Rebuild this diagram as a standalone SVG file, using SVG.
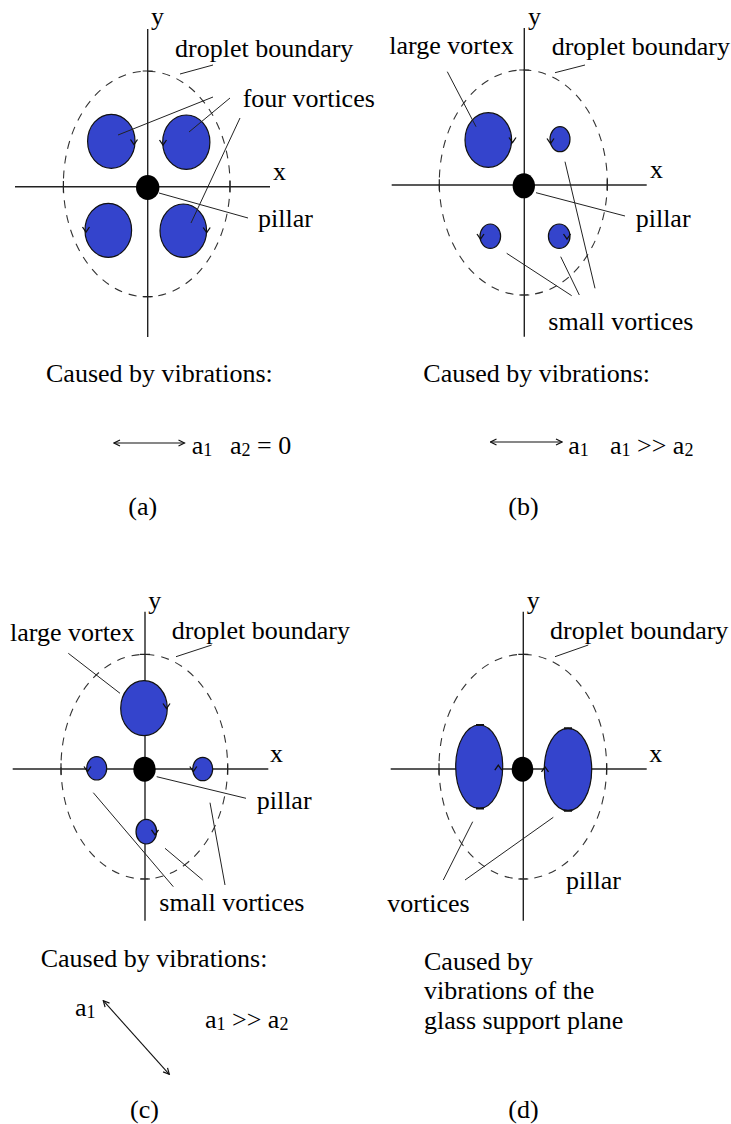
<svg xmlns="http://www.w3.org/2000/svg" xmlns:xlink="http://www.w3.org/1999/xlink" width="731" height="1124" viewBox="0 0 731 1124">
<defs>
<style>
.t{font-family:"Liberation Serif","Times New Roman",serif;font-size:26px;fill:#000}
.sub{font-size:18px}
.ax{stroke:#222;stroke-width:1.4;fill:none}
.bd{fill:none;stroke:#333;stroke-width:1.1;stroke-dasharray:8 7}
.vx{fill:#3444cc;stroke:#111;stroke-width:1.2}
.pl{fill:#000}
.ld{stroke:#222;stroke-width:1;fill:none}
.ah{fill:none;stroke:#111;stroke-width:1.3}
.tk{stroke:#222;stroke-width:1.2;fill:none}
.dbl{stroke:#111;stroke-width:1.1;fill:none}
</style>
<marker id="hd" viewBox="0 0 8 8" refX="7" refY="4" markerWidth="8" markerHeight="8" markerUnits="userSpaceOnUse" orient="auto-start-reverse">
<path d="M1,1 L7,4 L1,7" fill="none" stroke="#111" stroke-width="1.2"/>
</marker>
<path id="cv" d="M-3.5,-3.5 L0,1.5 L3.5,-3.5" class="ah"/>
<path id="cu" d="M-3.5,3.5 L0,-1.5 L3.5,3.5" class="ah"/>
</defs>
<rect width="731" height="1124" fill="#fff"/>

<!-- Panel (a) -->
<g id="panel-a">
  <g id="a-axes">
    <line class="ax" x1="147.7" y1="29" x2="147.7" y2="337"/>
    <line class="ax" x1="15" y1="186.7" x2="270" y2="186.7"/>
    <text class="t" x="151" y="25">y</text>
    <text class="t" x="273" y="180">x</text>
  </g>
  <g id="a-boundary">
    <ellipse class="bd" cx="146.7" cy="184" rx="83.3" ry="112.8"/>
    <path class="tk" d="M142.7,71 H152.7 M142.7,296.7 H152.7 M63.4,181 V192.4 M230,181 V192.4"/>
  </g>
  <g id="a-vortex-tl"><ellipse class="vx" cx="111.3" cy="141.3" rx="23.7" ry="27"/><use xlink:href="#cv" x="134" y="143"/></g>
  <g id="a-vortex-tr"><ellipse class="vx" cx="186.3" cy="142.2" rx="23.6" ry="27.2"/><use xlink:href="#cv" x="163" y="143.5"/></g>
  <g id="a-vortex-bl"><ellipse class="vx" cx="108.3" cy="230.3" rx="23.3" ry="27"/><use xlink:href="#cv" x="86" y="230.5"/></g>
  <g id="a-vortex-br"><ellipse class="vx" cx="183.3" cy="230.7" rx="23.3" ry="26.7"/><use xlink:href="#cv" x="206.7" y="231"/></g>
  <g id="a-pillar"><ellipse class="pl" cx="147.7" cy="187.5" rx="11.7" ry="12.5"/></g>
  <g id="a-labels">
    <text class="t" x="175" y="57">droplet boundary</text>
    <text class="t" x="242.7" y="107">four vortices</text>
    <text class="t" x="258" y="227">pillar</text>
  </g>
  <g id="a-caption">
    <text class="t" x="46" y="382">Caused by vibrations:</text>
    <line class="dbl" x1="114" y1="443" x2="184.5" y2="443" marker-start="url(#hd)" marker-end="url(#hd)"/>
    <text class="t" x="191.7" y="454">a<tspan class="sub" dy="2">1</tspan></text>
    <text class="t" x="230" y="454">a<tspan class="sub" dy="2">2</tspan><tspan dy="-2"> = 0</tspan></text>
    <text class="t" x="128.3" y="515">(a)</text>
  </g>
</g>

<!-- Panel (b) -->
<g id="panel-b">
  <g id="b-axes">
    <line class="ax" x1="524.3" y1="28" x2="524.3" y2="336.7"/>
    <line class="ax" x1="391.7" y1="185" x2="646.7" y2="185"/>
    <text class="t" x="528" y="25">y</text>
    <text class="t" x="650" y="178">x</text>
  </g>
  <g id="b-boundary">
    <ellipse class="bd" cx="523.3" cy="182.5" rx="84" ry="112.5"/>
    <path class="tk" d="M519.3,70 H529.3 M519.3,295 H529.3 M439.3,179.3 V190.7 M607.3,179.3 V190.7"/>
  </g>
  <g id="b-vortex-large"><ellipse class="vx" cx="488.3" cy="140" rx="23.3" ry="27.3"/><use xlink:href="#cv" x="512.5" y="141"/></g>
  <g id="b-vortex-tr"><ellipse class="vx" cx="560" cy="139.2" rx="10" ry="12.5"/><use xlink:href="#cv" x="550.5" y="142"/></g>
  <g id="b-vortex-bl"><ellipse class="vx" cx="490.3" cy="236.2" rx="10.3" ry="12.2"/><use xlink:href="#cv" x="480.5" y="237.5"/></g>
  <g id="b-vortex-br"><ellipse class="vx" cx="559.2" cy="236.2" rx="10.8" ry="12.2"/><use xlink:href="#cv" x="567" y="237.5"/></g>
  <g id="b-pillar"><ellipse class="pl" cx="523.8" cy="185.8" rx="11.2" ry="12.5"/></g>
  <g id="b-labels">
    <text class="t" x="389.3" y="54">large vortex</text>
    <text class="t" x="551.7" y="55">droplet boundary</text>
    <text class="t" x="635.7" y="227">pillar</text>
    <text class="t" x="548.3" y="330">small vortices</text>
  </g>
  <g id="b-caption">
    <text class="t" x="423.3" y="382">Caused by vibrations:</text>
    <line class="dbl" x1="490.5" y1="442" x2="562" y2="442" marker-start="url(#hd)" marker-end="url(#hd)"/>
    <text class="t" x="568.3" y="454">a<tspan class="sub" dy="2">1</tspan></text>
    <text class="t" x="610" y="454">a<tspan class="sub" dy="2">1</tspan><tspan dy="-2"> &gt;&gt; a</tspan><tspan class="sub" dy="2">2</tspan></text>
    <text class="t" x="508.3" y="515">(b)</text>
  </g>
</g>

<!-- Panel (c) -->
<g id="panel-c">
  <g id="c-axes">
    <line class="ax" x1="145" y1="611.7" x2="145" y2="920.7"/>
    <line class="ax" x1="12.7" y1="769" x2="268.3" y2="769"/>
    <text class="t" x="148.3" y="608.7">y</text>
    <text class="t" x="270" y="761.7">x</text>
  </g>
  <g id="c-boundary">
    <ellipse class="bd" cx="144.3" cy="766.7" rx="83.3" ry="112.3"/>
    <path class="tk" d="M140,654.3 H150 M140,879 H150 M61,763.3 V774.7 M227.7,763.3 V774.7"/>
  </g>
  <g id="c-vortex-large"><ellipse class="vx" cx="144" cy="708.2" rx="23.3" ry="27.5"/><use xlink:href="#cv" x="166.5" y="707"/></g>
  <g id="c-vortex-left"><ellipse class="vx" cx="96.7" cy="768.3" rx="10" ry="11.7"/><use xlink:href="#cv" x="87.5" y="770"/></g>
  <g id="c-vortex-right"><ellipse class="vx" cx="202.7" cy="769" rx="10" ry="11.7"/><use xlink:href="#cv" x="193.3" y="770"/></g>
  <g id="c-vortex-bottom"><ellipse class="vx" cx="146.3" cy="831.7" rx="10.3" ry="12.3"/><use xlink:href="#cv" x="155" y="833.3"/></g>
  <g id="c-pillar"><ellipse class="pl" cx="144.5" cy="769.2" rx="11.2" ry="12.5"/></g>
  <g id="c-labels">
    <text class="t" x="10" y="641">large vortex</text>
    <text class="t" x="171.7" y="639">droplet boundary</text>
    <text class="t" x="256.7" y="809">pillar</text>
    <text class="t" x="159.3" y="910.5">small vortices</text>
  </g>
  <g id="c-caption">
    <text class="t" x="40.7" y="967">Caused by vibrations:</text>
    <text class="t" x="75" y="1016">a<tspan class="sub" dy="2">1</tspan></text>
    <line class="dbl" x1="103.3" y1="1000.7" x2="169.3" y2="1074.3" marker-start="url(#hd)" marker-end="url(#hd)"/>
    <text class="t" x="205" y="1028">a<tspan class="sub" dy="2">1</tspan><tspan dy="-2"> &gt;&gt; a</tspan><tspan class="sub" dy="2">2</tspan></text>
    <text class="t" x="130" y="1118">(c)</text>
  </g>
</g>

<!-- Panel (d) -->
<g id="panel-d">
  <g id="d-axes">
    <line class="ax" x1="523.3" y1="611.7" x2="523.3" y2="920.7"/>
    <line class="ax" x1="390.7" y1="769" x2="646.7" y2="769"/>
    <text class="t" x="526.7" y="608.7">y</text>
    <text class="t" x="649.3" y="761.7">x</text>
  </g>
  <g id="d-boundary">
    <ellipse class="bd" cx="522.8" cy="766.7" rx="83.8" ry="112.3"/>
    <path class="tk" d="M518.3,654.3 H528.3 M518.3,879 H528.3 M439,763.3 V774.7 M606.7,763.3 V774.7"/>
  </g>
  <g id="d-vortex-left"><ellipse class="vx" cx="479.2" cy="766.7" rx="23.5" ry="41.7"/><path d="M476,725 H484 M476,808.4 H484" stroke="#111" stroke-width="2"/><use xlink:href="#cu" x="498.3" y="766.7"/></g>
  <g id="d-vortex-right"><ellipse class="vx" cx="568" cy="769.5" rx="23.7" ry="41.2"/><path d="M564,728.3 H572 M564,810.7 H572" stroke="#111" stroke-width="2"/><use xlink:href="#cu" x="545" y="768.3"/></g>
  <g id="d-pillar"><ellipse class="pl" cx="522.5" cy="769.2" rx="10.8" ry="12.5"/></g>
  <g id="d-labels">
    <text class="t" x="550" y="639">droplet boundary</text>
    <text class="t" x="566" y="889">pillar</text>
    <text class="t" x="387.3" y="911.7">vortices</text>
  </g>
  <g id="d-caption">
    <text class="t" x="424" y="970">Caused by</text>
    <text class="t" x="424" y="999">vibrations of the</text>
    <text class="t" x="424" y="1029">glass support plane</text>
    <text class="t" x="508.3" y="1118">(d)</text>
  </g>
</g>

<!-- Connectors (leader lines) -->
<g id="connectors">
  <path class="ld" d="M180,74 L213,65"/>
  <path class="ld" d="M213,97 L118,135"/>
  <path class="ld" d="M230,98 L189,132"/>
  <path class="ld" d="M240,118 L191,223"/>
  <path class="ld" d="M159,193 L248,218"/>

  <path class="ld" d="M555,72.7 L585,65"/>
  <path class="ld" d="M447.3,71.7 L476,126.7"/>
  <path class="ld" d="M536,192.7 L625,216"/>
  <path class="ld" d="M506.7,253.3 L571.7,295.7"/>
  <path class="ld" d="M560.7,256.7 L579.3,295"/>
  <path class="ld" d="M565,161.7 L595,288.3"/>

  <path class="ld" d="M176,656.7 L211.7,645"/>
  <path class="ld" d="M68.3,653.3 L120,693.3"/>
  <path class="ld" d="M156.7,776.7 L246,798.3"/>
  <path class="ld" d="M93.3,792.7 L173.3,886.7"/>
  <path class="ld" d="M165,848.3 L202.7,880"/>
  <path class="ld" d="M210,802.7 L225,885"/>

  <path class="ld" d="M555,656.7 L588.3,645"/>
  <path class="ld" d="M472.7,821.7 L443.3,880"/>
  <path class="ld" d="M553.3,817.3 L465,880"/>
</g>
</svg>
